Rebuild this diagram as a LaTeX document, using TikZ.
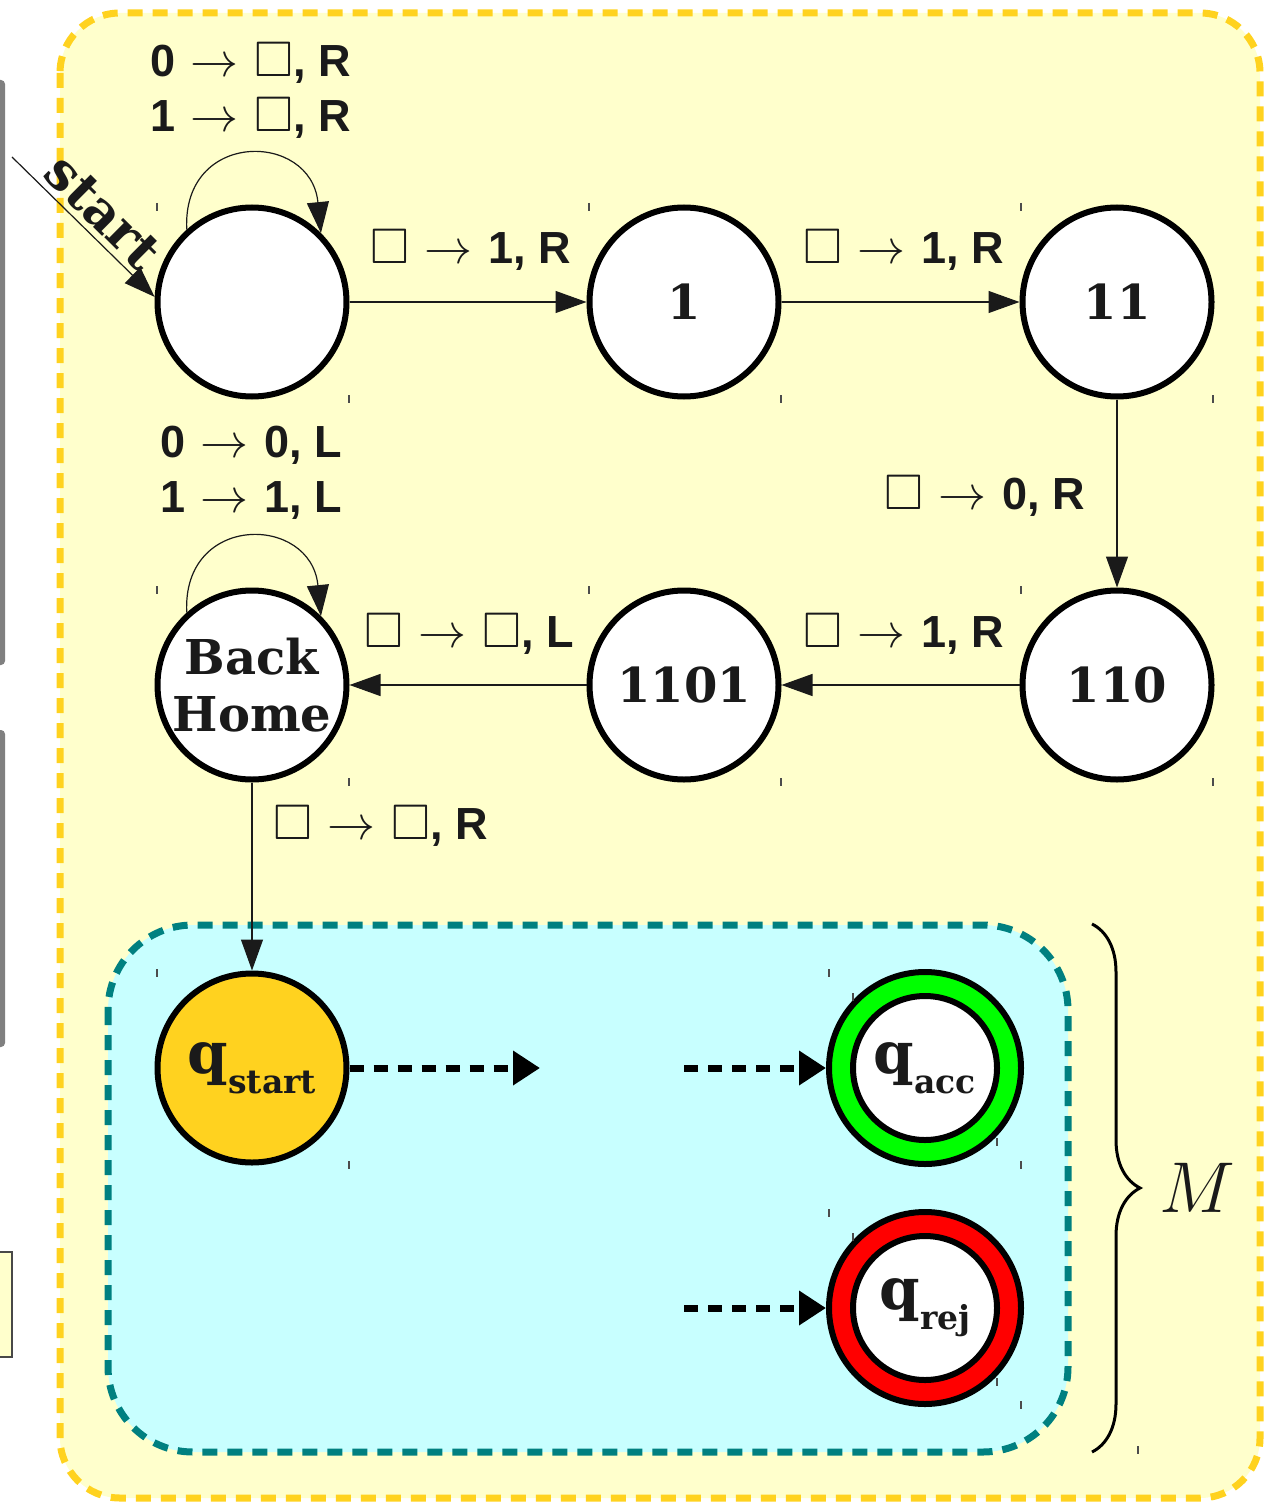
\RequirePackage{fix-cm}
\documentclass[tikz,border=0pt]{standalone}
\usepackage{amssymb}
\usepackage{fontspec}
\usetikzlibrary{arrows.meta,decorations.pathreplacing}
\newfontfamily\lblfont{Liberation Sans}
\newfontfamily\stfont{DejaVu Serif}
\definecolor{paleyellow}{RGB}{255,255,204}
\definecolor{goldc}{RGB}{255,210,31}
\definecolor{palecyan}{RGB}{200,255,255}
\definecolor{tealc}{RGB}{0,128,128}
\definecolor{inkc}{RGB}{26,26,26}
\definecolor{greenc}{RGB}{0,255,0}
\definecolor{redc}{RGB}{255,0,0}
\newcommand\blk{{\fontsize{25}{25}\selectfont$\square$}}
\newcommand\arw{\hspace{1.5pt}{\fontsize{24}{24}\selectfont$\rightarrow$}\hspace{1.5pt}}
\newcommand\qlab[1]{{\fontsize{29}{29}\selectfont q}\raisebox{-10pt}{\fontsize{16.5}{16.5}\selectfont #1}}
\begin{document}
\begin{tikzpicture}[x=0.5pt,y=-0.5pt,
  tstate/.style={circle, draw=black, line width=3pt, fill=white, minimum size=94.5pt, inner sep=0pt,
    font=\stfont\bfseries\fontsize{24}{28.5}\selectfont, text=inkc, align=center},
  lbl/.style={font=\lblfont\bfseries\fontsize{22.5}{27.5}\selectfont, text=inkc, inner sep=0pt, anchor=west, align=left},
  trans/.style={line width=0.6pt, draw=inkc, -{Triangle[length=15.5pt,width=11pt]}},
  dtrans/.style={line width=3.5pt, dash pattern=on 7pt off 5pt, -{Triangle[length=13.5pt,width=16.5pt]}},
  tickmark/.style={draw=gray!60!black, line width=0.6pt}]
\useasboundingbox (0,0) rectangle (1268,1503);
% left-edge fragments
\fill[gray, rounded corners=2pt] (-6,80) rectangle (5,665);
\fill[gray, rounded corners=2pt] (-6,730) rectangle (5,1047);
\filldraw[fill=paleyellow, draw=inkc!80, line width=0.6pt] (-6,1252) rectangle (12,1357);
% outer region
\draw[fill=paleyellow, draw=goldc, line width=3.5pt, dash pattern=on 7.5pt off 5pt, rounded corners=30pt]
  (60,13) rectangle (1260,1498);
% inner region
\draw[fill=palecyan, draw=tealc, line width=3.5pt, dash pattern=on 7.5pt off 5pt, rounded corners=42.5pt]
  (108,925) rectangle (1068,1452);
% states
\node[tstate] (s0) at (252,302) {};
\node[tstate] (s1) at (684,302) {1};
\node[tstate] (s2) at (1117,302) {11};
\node[tstate] (s3) at (1117,685) {110};
\node[tstate] (s4) at (684,685) {1101};
\node[tstate] (bh) at (252,685) {Back\\Home};
\node[tstate, fill=goldc] (qs) at (252,1068) {\qlab{start}};
\node[tstate, fill=greenc, minimum size=96pt] (qa) at (925,1068) {};
\node[tstate, minimum size=72pt] (qai) at (qa) {\qlab{acc}};
\node[tstate, fill=redc, minimum size=96pt] (qr) at (925,1308) {};
\node[tstate, minimum size=72pt] (qri) at (qr) {\qlab{rej}};
% start arrow
\coordinate (st) at (12,157);
\draw[trans] (st) -- (s0.177);
\node[font=\stfont\bfseries\fontsize{26}{26}\selectfont, text=inkc, rotate=-44.8] (stlab) at (103,212) {start};
% transitions
\draw[trans] (s0.132) .. controls +(-5,-100) and +(-10,-102) .. (s0.45);
\draw[trans] (bh.132) .. controls +(-5,-100) and +(-10,-102) .. (bh.45);
\draw[trans] (s0) -- (s1);
\draw[trans] (s1) -- (s2);
\draw[trans] (s2) -- (s3);
\draw[trans] (s3) -- (s4);
\draw[trans] (s4) -- (bh);
\draw[trans] (bh) -- (qs);
% labels
\node[lbl] (l0) at (150,91) {0 \arw\ \blk, R\\1 \arw\ \blk, R};
\node[lbl] (l1) at (370,250) {\blk\ \arw\ 1, R};
\node[lbl] (l2) at (803,250) {\blk\ \arw\ 1, R};
\node[lbl] (l3) at (884,496) {\blk\ \arw\ 0, R};
\node[lbl] (l4) at (803,634) {\blk\ \arw\ 1, R};
\node[lbl] (l5) at (364,634) {\blk\ \arw\ \blk, L};
\node[lbl] (l6) at (160,473) {0 \arw\ 0, L\\1 \arw\ 1, L};
\node[lbl] (l7) at (273,826) {\blk\ \arw\ \blk, R};
% dashed arrows in M
\coordinate (m1) at (540,1068);
\coordinate (m2) at (684,1068);
\coordinate (m3) at (684,1308);
\draw[dtrans] (qs) -- (m1);
\draw[dtrans] (m2) -- (qa);
\draw[dtrans] (m3) -- (qr);
% brace
\coordinate (b1) at (1092,924);
\coordinate (b2) at (1092,1452);
\draw[line width=1.5pt, decorate, decoration={brace, amplitude=24pt}] (b1) -- (b2);
\node[text=inkc] (mlab) at (1197,1188) {\fontsize{36}{36}\selectfont $M$};
% tick artifacts
\foreach \x/\y in {157/207,349/399,589/207,781/399,1021/207,1213/399,
  157/590,349/782,589/590,781/782,1021/590,1213/782,
  157/973,349/1165,829/973,853/997,997/1142,1021/1165,
  829/1213,853/1237,997/1382,1021/1405,1138/1450}
  \draw[tickmark] (\x,\y-4) -- (\x,\y+4);
\end{tikzpicture}
\end{document}
